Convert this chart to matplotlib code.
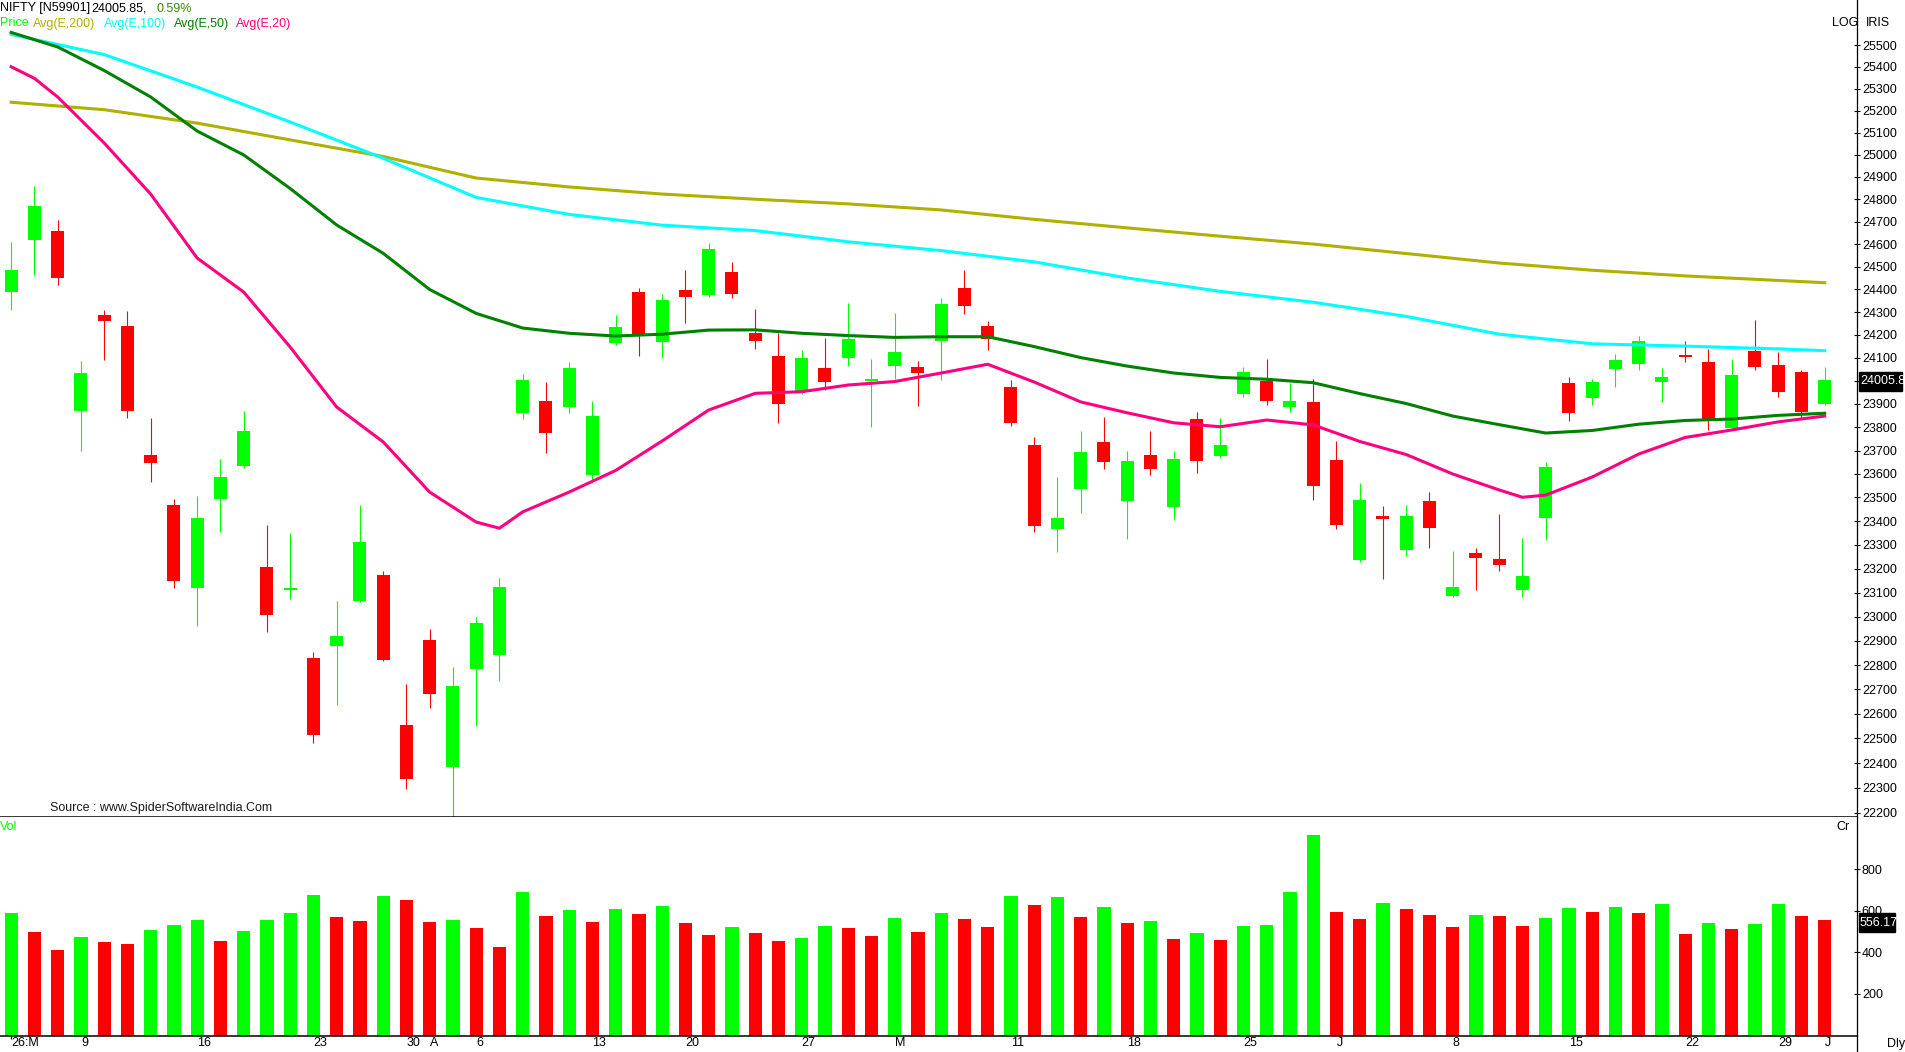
import matplotlib
matplotlib.use("Agg")
import matplotlib.pyplot as plt
from matplotlib.lines import Line2D
from matplotlib.patches import Rectangle
from matplotlib.ticker import NullLocator
from matplotlib.transforms import blended_transform_factory

plt.rcParams['font.family'] = ['Liberation Sans', 'DejaVu Sans']

# daily candles (index 0 = first bar on the chart)
opens = [24390, 24620, 24660, 23870, 24285, 24240, 23680, 23470, 23120, 23495,
         23635, 23205, 23110, 22830, 22880, 23065, 23175, 22555, 22905, 22385,
         22785, 22840, 23860, 23915, 23885, 23595, 24165, 24390, 24170, 24395,
         24375, 24475, 24210, 24110, 23955, 24055, 24100, 24000, 24065, 24060,
         24175, 24405, 24240, 23975, 23725, 23365, 23535, 23735, 23485, 23680,
         23460, 23835, 23675, 23945, 24000, 23885, 23910, 23660, 23235, 23420,
         23280, 23485, 23085, 23265, 23240, 23110, 23415, 23990, 23925, 24050,
         24075, 23995, 24110, 24080, 23795, 24130, 24070, 24040, 23900]
highs = [24610, 24860, 24705, 24085, 24310, 24305, 23840, 23495, 23505, 23665,
         23870, 23385, 23350, 22855, 23065, 23470, 23190, 22720, 22950, 22790,
         23000, 23160, 24030, 23995, 24080, 23915, 24285, 24405, 24380, 24485,
         24605, 24520, 24315, 24210, 24135, 24185, 24340, 24095, 24295, 24085,
         24360, 24485, 24260, 24005, 23760, 23585, 23785, 23845, 23700, 23785,
         23700, 23865, 23840, 24060, 24095, 23990, 24010, 23740, 23560, 23465,
         23470, 23525, 23275, 23285, 23430, 23330, 23650, 24015, 24010, 24115,
         24195, 24055, 24175, 24140, 24095, 24265, 24125, 24045, 24060]
lows = [24310, 24465, 24420, 23700, 24090, 23840, 23565, 23120, 22960, 23355,
        23625, 22935, 23075, 22480, 22635, 23060, 22815, 22295, 22625, 22185,
        22550, 22735, 23835, 23690, 23860, 23560, 24155, 24110, 24100, 24250,
        24365, 24360, 24140, 23820, 23945, 23960, 24065, 23800, 24010, 23890,
        24005, 24290, 24135, 23805, 23355, 23270, 23435, 23620, 23325, 23595,
        23405, 23605, 23670, 23930, 23895, 23865, 23490, 23365, 23230, 23155,
        23255, 23285, 23080, 23110, 23190, 23080, 23320, 23825, 23895, 23975,
        24045, 23910, 24080, 23790, 23790, 24045, 23930, 23835, 23895]
closes = [24485, 24770, 24450, 24035, 24260, 23870, 23645, 23150, 23415, 23585,
          23785, 23005, 23118, 22515, 22920, 23310, 22820, 22335, 22680, 22715,
          22975, 23125, 24005, 23775, 24055, 23850, 24235, 24200, 24355, 24365,
          24580, 24380, 24175, 23900, 24100, 23995, 24180, 24005, 24125, 24035,
          24335, 24325, 24180, 23820, 23380, 23415, 23695, 23650, 23655, 23620,
          23665, 23655, 23725, 24040, 23915, 23915, 23550, 23385, 23490, 23410,
          23420, 23370, 23125, 23245, 23215, 23170, 23630, 23860, 23995, 24090,
          24175, 24015, 24105, 23835, 24025, 24060, 23950, 23865, 24005.85]

# volume in crores
volume = [589, 498, 412, 474, 450, 440, 508, 532, 556, 455,
          503, 556, 589, 676, 570, 551, 671, 652, 546, 556,
          517, 426, 690, 575, 604, 546, 609, 585, 623, 541,
          484, 522, 493, 455, 469, 527, 517, 479, 565, 498,
          589, 561, 522, 671, 628, 666, 570, 618, 541, 551,
          464, 493, 460, 527, 532, 690, 964, 594, 561, 638,
          609, 580, 522, 580, 575, 527, 565, 613, 594, 618,
          589, 633, 488, 541, 513, 537, 633, 575, 556.17]

# moving averages (bar index, value)
ema20_idx = [0, 1, 2, 4, 6, 8, 10, 12, 14, 16, 18, 20, 21, 22, 24, 26, 28, 30, 32, 34, 36,
             38, 40, 42, 44, 46, 48, 50, 52, 54, 56, 58, 60, 62, 64, 65, 66, 68, 70, 72,
             74, 76, 78]
ema20 = [25400, 25347, 25262, 25053, 24823, 24538, 24388, 24147, 23887, 23737, 23523,
         23396, 23370, 23439, 23523, 23615, 23741, 23874, 23946, 23953, 23982, 23997,
         24034, 24072, 23995, 23909, 23862, 23819, 23802, 23831, 23810, 23739, 23683,
         23600, 23532, 23501, 23510, 23587, 23685, 23756, 23788, 23823, 23848]
ema50_idx = list(range(0, 79, 2))
ema50 = [25558, 25491, 25383, 25262, 25107, 24999, 24848, 24685, 24559, 24399,
         24294, 24230, 24207, 24195, 24203, 24221, 24222, 24207, 24197, 24189,
         24192, 24192, 24149, 24101, 24064, 24034, 24015, 24007, 23992, 23945,
         23902, 23848, 23811, 23775, 23786, 23813, 23829, 23835, 23851, 23860]
ema100_idx = [0, 4, 8, 12, 16, 20, 24, 28, 32, 36, 40, 44, 48, 52, 56, 60, 64, 68, 72, 76, 78]
ema100 = [25549, 25456, 25307, 25148, 24984, 24808, 24732, 24684, 24660, 24610, 24571,
          24521, 24450, 24391, 24343, 24281, 24203, 24161, 24151, 24139, 24131]
ema200_idx = [0, 4, 8, 12, 16, 20, 24, 28, 32, 36, 40, 44, 48, 52, 56, 60, 64, 68, 72, 76, 78]
ema200 = [25238, 25204, 25143, 25067, 24992, 24895, 24855, 24823, 24800, 24779, 24752,
          24710, 24672, 24635, 24600, 24558, 24516, 24484, 24459, 24439, 24429]

# date labels on the x axis
date_pos = [0, 3, 8, 13, 17, 18, 20, 25, 29, 34, 38, 43, 48, 53, 57, 62, 67, 72, 76, 78]
date_labels = ['26:M', '9', '16', '23', '30', 'A', '6', '13', '20', '27', 'M', '11', '18',
               '25', 'J', '8', '15', '22', '29', 'J']

price_ticks = list(range(22200, 25600, 100))
vol_ticks = [200, 400, 600, 800]

GREEN = '#00FF00'
RED = '#FF0000'
C200 = '#B0B000'
C100 = '#00FFFF'
C50 = '#008000'
C20 = '#FF0080'

W, H = 1906, 1052
fig = plt.figure(figsize=(W / 100, H / 100), dpi=100, facecolor='white')


def fx(px):
    return px / W


def fy(py):
    return 1 - py / H


AXIS_X = 1857
PANE_SPLIT = 817
PANE_BOTTOM = 1036

ax = fig.add_axes([0, fy(PANE_SPLIT), fx(AXIS_X), PANE_SPLIT / H])
axv = fig.add_axes([0, fy(PANE_BOTTOM), fx(AXIS_X), (PANE_BOTTOM - PANE_SPLIT) / H])

n = len(closes)
x = list(range(n))
xlim = (-0.48, 79.39)

# candles
for i in x:
    o, h, l, c = opens[i], highs[i], lows[i], closes[i]
    col = GREEN if c >= o else RED
    ax.vlines(i, l, h, color=col, lw=0.8, zorder=2)
    lo, hi = min(o, c), max(o, c)
    if hi - lo < 8:
        mid = (hi + lo) / 2
        lo, hi = mid - 4, mid + 4
    ax.bar(i, hi - lo, bottom=lo, width=0.56, color=col, linewidth=0, zorder=3)

# moving averages
ax.plot(ema200_idx, ema200, color=C200, lw=2.2, zorder=4)
ax.plot(ema100_idx, ema100, color=C100, lw=2.2, zorder=4)
ax.plot(ema50_idx, ema50, color=C50, lw=2.2, zorder=4)
ax.plot(ema20_idx, ema20, color=C20, lw=2.2, zorder=4)

ax.set_yscale('log')
ax.set_ylim(22183, 25708)
ax.set_xlim(*xlim)
# the 24000 label sits under the last-price badge
ax.set_yticks(price_ticks, labels=['' if t == 24000 else str(t) for t in price_ticks])
ax.yaxis.set_minor_locator(NullLocator())
ax.yaxis.tick_right()
ax.tick_params(axis='y', direction='inout', length=4, width=0.8, pad=1.5,
               labelsize=9, colors='black')
ax.set_xticks([])
for s in ['left', 'top']:
    ax.spines[s].set_visible(False)
ax.spines['right'].set_linewidth(0.9)
ax.spines['bottom'].set_linewidth(1.1)

# volume pane
vol_colors = [GREEN]
for i in range(1, n):
    vol_colors.append(GREEN if volume[i] >= volume[i - 1] else RED)
axv.bar(x, volume, width=0.57, color=vol_colors, linewidth=0)
axv.set_xlim(*xlim)
axv.set_ylim(-2, 1051)
axv.set_yticks(vol_ticks, labels=[str(t) for t in vol_ticks])
axv.yaxis.tick_right()
axv.tick_params(axis='y', direction='inout', length=4, width=0.8, pad=1.5,
                labelsize=9, colors='black')
axv.set_xticks([date_pos[0]], labels=[''])
axv.tick_params(axis='x', direction='out', length=2.5, width=0.8)
for s in ['left', 'top']:
    axv.spines[s].set_visible(False)
axv.spines['right'].set_linewidth(0.9)
axv.spines['bottom'].set_linewidth(1.1)

# date labels, left aligned at the bar
date_tr = blended_transform_factory(axv.transData, fig.transFigure)
for p, lab in zip(date_pos, date_labels):
    axv.text(p, fy(1043.5), lab, transform=date_tr, ha='left', va='center', fontsize=9)

# axis line continues down to the bottom edge
fig.add_artist(Line2D([fx(AXIS_X), fx(AXIS_X)], [fy(PANE_BOTTOM), 0],
                      color='black', lw=0.9))

# header
fig.text(0, fy(8.5), 'NIFTY [N59901]', fontsize=9, va='center', color='black')
fig.text(fx(91), fy(8.5), '24005.85,', fontsize=9, va='center', color='black')
fig.text(fx(157), fy(8.5), '0.59%', fontsize=9, va='center', color='#3A8A00')
legend_items = [('Price', GREEN, 0), ('Avg(E,200)', C200, 33), ('Avg(E,100)', C100, 104),
                ('Avg(E,50)', C50, 174), ('Avg(E,20)', C20, 236)]
for txt, col, px in legend_items:
    fig.text(fx(px), fy(23.5), txt, fontsize=9, va='center', color=col)

fig.text(fx(1832), fy(23.5), 'LOG', fontsize=9, va='center', color='black')
fig.text(fx(1866), fy(23.5), 'IRIS', fontsize=9, va='center', color='black')
fig.text(fx(50), fy(808.5), 'Source : www.SpiderSoftwareIndia.Com', fontsize=9,
         va='center', color='#1A1A1A')
fig.text(0, fy(826.5), 'Vol', fontsize=9, va='center', color=GREEN)
fig.text(fx(1836), fy(826.5), 'Cr', fontsize=9, va='center', color='black')
fig.text(fx(1887), fy(1043.5), 'Dly', fontsize=9, va='center', color='black')

# last value badges
fig.add_artist(Rectangle((fx(1859), fy(390.7)), fx(1902 - 1859), (390.7 - 371.7) / H,
                         color='black', zorder=10))
fig.text(fx(1860), fy(381.2), '24005.8', fontsize=9, va='center', color='white', zorder=11)
fig.add_artist(Rectangle((fx(1859), fy(931.7)), fx(1895 - 1859), (931.7 - 913.3) / H,
                         color='black', zorder=10))
fig.text(fx(1860), fy(922.5), '556.17', fontsize=9, va='center', color='white', zorder=11)

fig.savefig('out.png', dpi=100, facecolor='white')
